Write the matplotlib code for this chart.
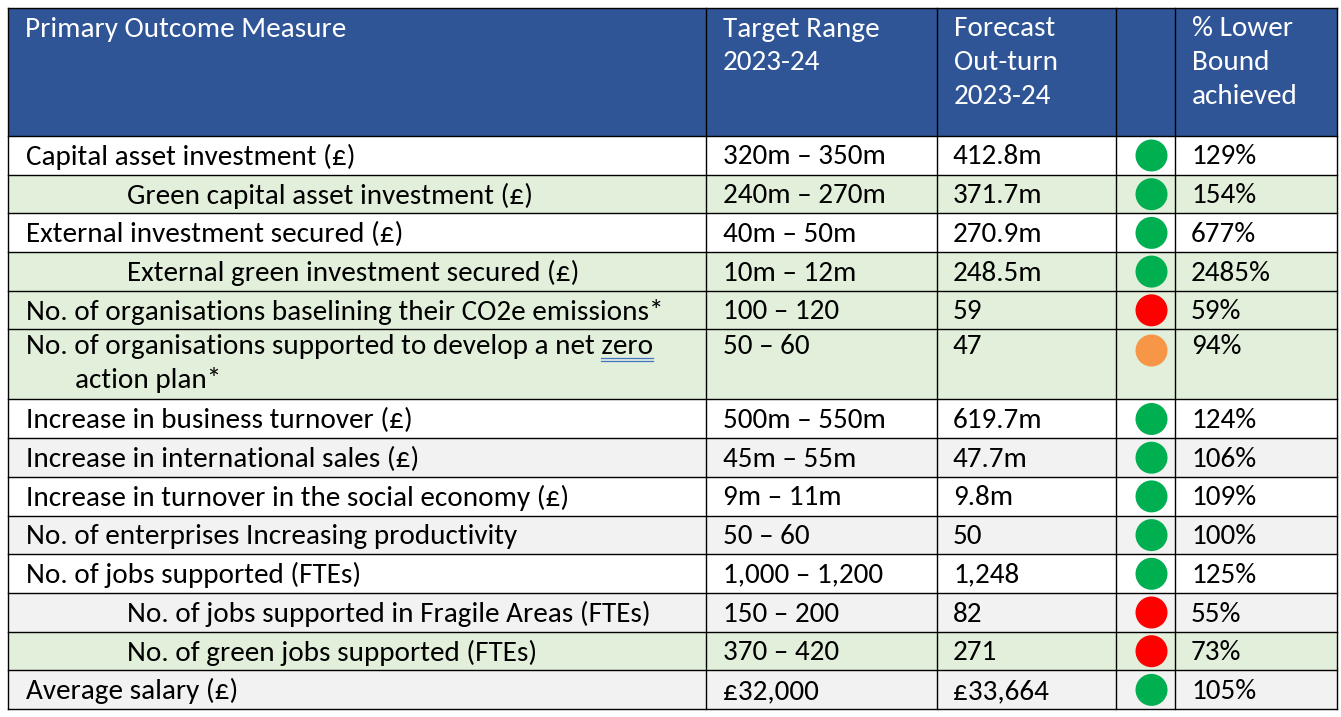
import matplotlib
matplotlib.use("Agg")
import matplotlib.pyplot as plt
from matplotlib import font_manager
from matplotlib.patches import Rectangle, Circle

# table content
headers = ["Primary Outcome Measure", "Target Range\n2023-24", "Forecast\nOut-turn\n2023-24", "", "% Lower\nBound\nachieved"]
measures = [
    "Capital asset investment (£)",
    "Green capital asset investment (£)",
    "External investment secured (£)",
    "External green investment secured (£)",
    "No. of organisations baselining their CO2e emissions*",
    "No. of organisations supported to develop a net zero\naction plan*",
    "Increase in business turnover (£)",
    "Increase in international sales (£)",
    "Increase in turnover in the social economy (£)",
    "No. of enterprises Increasing productivity",
    "No. of jobs supported (FTEs)",
    "No. of jobs supported in Fragile Areas (FTEs)",
    "No. of green jobs supported (FTEs)",
    "Average salary (£)",
]
sub_measure = [False, True, False, True, False, False, False, False, False, False, False, True, True, False]
targets = ["320m – 350m", "240m – 270m", "40m – 50m", "10m – 12m", "100 – 120", "50 – 60",
           "500m – 550m", "45m – 55m", "9m – 11m", "50 – 60", "1,000 – 1,200", "150 – 200",
           "370 – 420", "£32,000"]
forecasts = ["412.8m", "371.7m", "270.9m", "248.5m", "59", "47", "619.7m", "47.7m", "9.8m",
             "50", "1,248", "82", "271", "£33,664"]
rag = ["green", "green", "green", "green", "red", "amber", "green", "green", "green",
       "green", "green", "red", "red", "green"]
pct_lower = ["129%", "154%", "677%", "2485%", "59%", "94%", "124%", "106%", "109%",
             "100%", "125%", "55%", "73%", "105%"]
row_shade = ["white", "green", "white", "green", "green", "green", "white", "grey", "white",
             "grey", "white", "grey", "green", "grey"]

# styles
shade_colors = {"white": "#FFFFFF", "green": "#E2EFDA", "grey": "#F2F2F2"}
rag_colors = {"green": "#00B050", "red": "#FF0000", "amber": "#F79646"}
header_color = "#2F5597"

W, H = 1341, 717
col_edges = [8, 706, 937, 1116, 1175, 1337]
top, header_bottom = 8, 136
row_h = 38.7
line_gap = 34

names = {f.name for f in font_manager.fontManager.ttflist}
font = next(f for f in ["Carlito", "Liberation Sans Narrow", "Open Sans", "Liberation Sans", "DejaVu Sans"] if f in names)

fig = plt.figure(figsize=(W / 100, H / 100), dpi=100)
ax = fig.add_axes([0, 0, 1, 1])
ax.set_xlim(0, W)
ax.set_ylim(H, 0)
ax.axis("off")

# fit font size to the width of the first measure text (~328 px)
renderer = fig.canvas.get_renderer()
probe = ax.text(0, 0, measures[0], fontsize=20, family=font)
w = probe.get_window_extent(renderer).width
probe.remove()
fs = 20 * 328 / w

# header
ax.add_patch(Rectangle((col_edges[0], top), col_edges[-1] - col_edges[0], header_bottom - top,
                       facecolor=header_color, edgecolor="none"))
for i, h in enumerate(headers):
    for k, line in enumerate(h.split("\n")):
        ax.text(col_edges[i] + 17, top + 21 + k * line_gap, line, color="white",
                fontsize=fs, family=font, va="center", ha="left")

# body rows
y = header_bottom
row_tops = []
for i, m in enumerate(measures):
    lines = m.split("\n")
    rh = row_h + (len(lines) - 1) * 31.3
    row_tops.append(y)
    ax.add_patch(Rectangle((col_edges[0], y), col_edges[-1] - col_edges[0], rh,
                           facecolor=shade_colors[row_shade[i]], edgecolor="none"))
    cy = y + 21 if len(lines) == 1 else y + 17
    x0 = col_edges[0] + 18 + (101 if sub_measure[i] else 0)
    for k, line in enumerate(lines):
        xx = x0 if k == 0 else x0 + 49
        ax.text(xx, cy + k * line_gap, line, fontsize=fs, family=font, va="center", ha="left")
        if "zero" in line:
            # spell-check style double underline under "zero"
            pre = ax.text(xx, cy, line[:line.index("zero")], fontsize=fs, family=font, va="center")
            word = ax.text(xx, cy, "zero", fontsize=fs, family=font, va="center")
            p0 = pre.get_window_extent(renderer)
            p1 = word.get_window_extent(renderer)
            xs = xx + (p0.x1 - p0.x0)
            xe = xs + (p1.x1 - p1.x0)
            pre.remove()
            word.remove()
            for dy in (11.5, 14.5):
                ax.plot([xs, xe], [cy + dy, cy + dy], color="#4472C4", lw=0.9)
    ax.text(col_edges[1] + 17, cy, targets[i], fontsize=fs, family=font, va="center")
    ax.text(col_edges[2] + 16, cy, forecasts[i], fontsize=fs, family=font, va="center")
    ax.add_patch(Circle((col_edges[3] + 35.5, y + 19.5 + (len(lines) - 1) * 1.5), 16,
                        facecolor=rag_colors[rag[i]], edgecolor="none"))
    ax.text(col_edges[4] + 16, cy, pct_lower[i], fontsize=fs, family=font, va="center")
    y += rh
bottom = y

# grid lines
for yy in [header_bottom] + row_tops[1:]:
    ax.plot([col_edges[0], col_edges[-1]], [yy, yy], color="black", lw=1.0)
for xx in col_edges:
    ax.plot([xx, xx], [top, bottom], color="black", lw=1.0)
ax.plot([col_edges[0], col_edges[-1]], [top, top], color="black", lw=1.0)
ax.plot([col_edges[0], col_edges[-1]], [bottom, bottom], color="black", lw=1.0)

fig.savefig("out.png", dpi=100, facecolor="white")
